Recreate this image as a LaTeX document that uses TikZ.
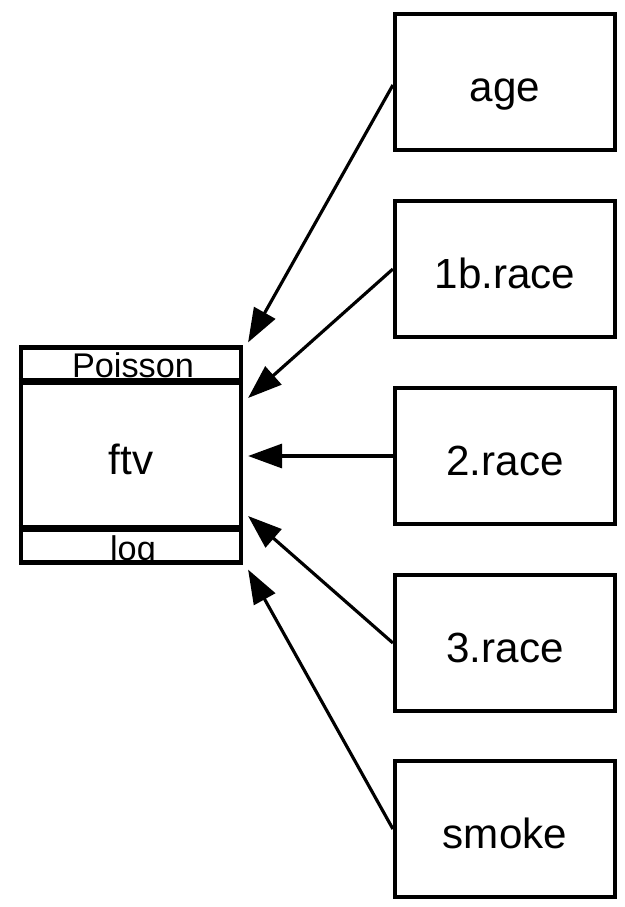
\documentclass[tikz,border=0pt]{standalone}
\usepackage{fontspec}
\setmainfont{Liberation Sans}
\usetikzlibrary{arrows.meta}
\tikzset{
  caja/.style={draw, line width=2.4pt, minimum width=4.4cm, minimum height=2.72cm,
    text height=0.76cm, text depth=0cm, font=\fontsize{24}{28}\selectfont},
  flecha/.style={line width=1.8pt, -{Triangle[length=0.68cm, width=0.48cm]}},
  franja/.style={line width=4pt},
  nota/.style={font=\fontsize{19.5}{22}\selectfont, inner sep=0pt, anchor=base},
}
\begin{document}
\begin{tikzpicture}[x=0.02cm, y=-0.02cm]
	\useasboundingbox (0,0) rectangle (625,907);

	% cajas de la derecha
	\node[caja] (age) at (505,82) {age}; % center (505, 82)
	\node[caja] (race1b) at (505,269) {1b.race}; % center (505, 269)
	\node[caja] (race2) at (505,456) {2.race}; % center (505, 456)
	\node[caja] (race3) at (505,643) {3.race}; % center (505, 643)
	\node[caja] (smoke) at (505,829) {smoke}; % center (505, 829)

	% caja del modelo con franjas
	\node[caja, minimum width=4.4cm, minimum height=4.3cm] (ftv) at (131,455) {ftv}; % center (131, 455)
	\begin{scope}
		\clip (ftv.south west) rectangle (ftv.north east);
		\node[nota] (family) at ([shift={(2,32)}]ftv.north) {Poisson};
		\node[nota] (link) at ([shift={(2,-4)}]ftv.south) {log};
	\end{scope}
	\draw[franja] ([yshift=-0.72cm]ftv.north west) -- ([yshift=-0.72cm]ftv.north east);
	\draw[franja] ([yshift=0.72cm]ftv.south west) -- ([yshift=0.72cm]ftv.south east);

	% puntos de llegada
	\coordinate (in1) at ([shift={(5,-3)}]ftv.north east);
	\coordinate (in2) at ([shift={(5,-57)}]ftv.east);
	\coordinate (in3) at ([shift={(5,1)}]ftv.east);
	\coordinate (in4) at ([shift={(5,61)}]ftv.east);
	\coordinate (in5) at ([shift={(5,5)}]ftv.south east);

	% flechas
	\draw[flecha] ([yshift=-0.06cm]age.west) -- (in1);
	\draw[flecha] (race1b.west) -- (in2);
	\draw[flecha] (race2.west) -- (in3);
	\draw[flecha] (race3.west) -- (in4);
	\draw[flecha] (smoke.west) -- (in5);
\end{tikzpicture}
\end{document}
